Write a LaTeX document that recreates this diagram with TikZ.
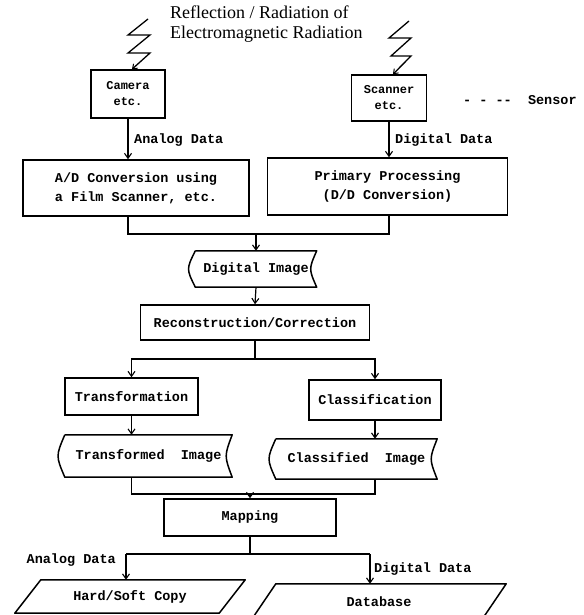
\documentclass[tikz,border=0pt]{standalone}
\usepackage{fontspec}
\setmainfont{Liberation Serif}
\setmonofont{Liberation Mono}
\usetikzlibrary{arrows.meta}

\tikzset{
  txt/.style={font=\ttfamily\bfseries\fontsize{13.5}{19}\selectfont, align=center, inner sep=0pt},
  procbox/.style={txt, draw, line width=1.5pt},
  shapeline/.style={line width=1.5pt, line join=round},
  flow/.style={line width=1.2pt},
  arr/.style={flow, -{Straight Barb[length=5pt,width=7pt,line width=1.1pt]}},
  bolt/.style={line width=1.3pt, line join=miter, -{Straight Barb[length=4pt,width=6pt,line width=1pt]}},
}

% stored-data outline: convex left side, concave right side
\newcommand\storedoutline[1]{%
  \draw[shapeline] (#1.north west) -- (#1.north east)
    .. controls ([xshift=-8pt]#1.east) .. (#1.south east)
    -- (#1.south west)
    .. controls ([xshift=-9pt]#1.west) .. (#1.north west);}
% parallelogram outline around a node, slant given as a length
\newcommand\slantoutline[2]{%
  \draw[shapeline] ([xshift=#2]#1.north west) -- ([xshift=#2]#1.north east)
    -- ([xshift=-#2]#1.south east) -- ([xshift=-#2]#1.south west) -- cycle;}

\begin{document}
\begin{tikzpicture}[x=1pt,y=-1pt]
\useasboundingbox (0,0) rectangle (583,615);

% heading
\node[font=\fontsize{18}{20}\selectfont, align=left, inner sep=0pt, anchor=west] (title) at (170,24)
  {Reflection / Radiation of\\Electromagnetic Radiation};

% sensors
\node[procbox, minimum width=74pt, minimum height=48pt, font=\ttfamily\bfseries\fontsize{12}{16}\selectfont] (cam) at (128,94) {Camera\\etc.};
\node[procbox, minimum width=75pt, minimum height=46pt, font=\ttfamily\bfseries\fontsize{12}{16}\selectfont] (scan) at (389,98) {Scanner\\etc.};
\node[txt, anchor=west] (sensor) at (463,100) {- - --~~Sensor};

\coordinate (boltL) at (148,19);
\coordinate (boltR) at (409,21);
\draw[bolt] (boltL) -- ++(-20,16) -- ++(22,0) -- ++(-22,18) -- ++(22,0) -- ([xshift=4pt]cam.north);
\draw[bolt] (boltR) -- ++(-20,17) -- ++(22,0) -- ++(-20,18) -- ++(20,0) -- ([xshift=4pt]scan.north);

% conversion
\node[procbox, minimum width=226pt, minimum height=56pt] (ad) at (136,188) {A/D Conversion using\\a Film Scanner, etc.};
\node[procbox, minimum width=240pt, minimum height=57pt] (pp) at (387.5,186.5) {Primary Processing\\(D/D Conversion)};

\draw[arr] (cam.south) -- (cam.south |- ad.north);
\draw[arr] (scan.south) -- (scan.south |- pp.north);
\node[txt, anchor=west] (lana) at (134,140) {Analog Data};
\node[txt, anchor=west] (ldig) at (395,140) {Digital Data};

% digital image and reconstruction
\node[txt, minimum width=121pt, minimum height=36pt] (di) at (256,269) {Digital Image};
\storedoutline{di}
\node[procbox, minimum width=229pt, minimum height=35pt] (rc) at (255,322.5) {Reconstruction/Correction};

\coordinate (j1) at (256,234);
\draw[flow] (cam.south |- ad.south) |- (j1) -| (scan.south |- pp.south);
\draw[arr] (j1) -- (di.north);
\draw[arr] (di.south) -- (rc.north);

% transformation / classification
\node[procbox, minimum width=133pt, minimum height=37pt] (tr) at (131.5,396.5) {Transformation};
\node[procbox, minimum width=132pt, minimum height=40pt] (cl) at (375,400) {Classification};
\node[txt, minimum width=167pt, minimum height=42pt] (ti) at (148.5,456) {Transformed~~Image};
\storedoutline{ti}
\node[txt, minimum width=161pt, minimum height=40pt] (ci) at (356.5,459) {Classified~~Image};
\storedoutline{ci}

\coordinate (j2) at (255,359);
\draw[flow] (rc.south) -- (j2);
\draw[arr] (j2) -| (tr.north);
\draw[arr] (j2) -| (cl.north);
\draw[arr] (tr.south) -- (tr.south |- ti.north);
\draw[arr] (cl.south) -- (cl.south |- ci.north);

% mapping
\node[procbox, minimum width=172pt, minimum height=37pt] (map) at (250,517.5) {Mapping};
\coordinate (j3) at (250,494);
\draw[flow] (tr.south |- ti.south) |- (j3) -| (cl.south |- ci.south);
\draw[arr] (j3) -- (map.north);

% outputs
\node[txt, minimum width=204pt, minimum height=33pt] (hs) at (130,596.5) {Hard/Soft Copy};
\slantoutline{hs}{13pt}
\node[txt, minimum width=230pt, minimum height=35pt] (db) at (379,601.5) {Database};
\slantoutline{db}{12pt}

\coordinate (j4) at (250,554);
\coordinate (bl) at (126,554);
\coordinate (br) at (370,554);
\draw[flow] (map.south) -- (j4);
\draw[flow] (bl) -- (br);
\draw[arr] (bl) -- (bl |- hs.north);
\draw[arr] (br) -- (br |- db.north);
\node[txt, anchor=east] (lana2) at (116,560) {Analog Data};
\node[txt, anchor=west] (ldig2) at (374,569) {Digital Data};
\end{tikzpicture}
\end{document}
